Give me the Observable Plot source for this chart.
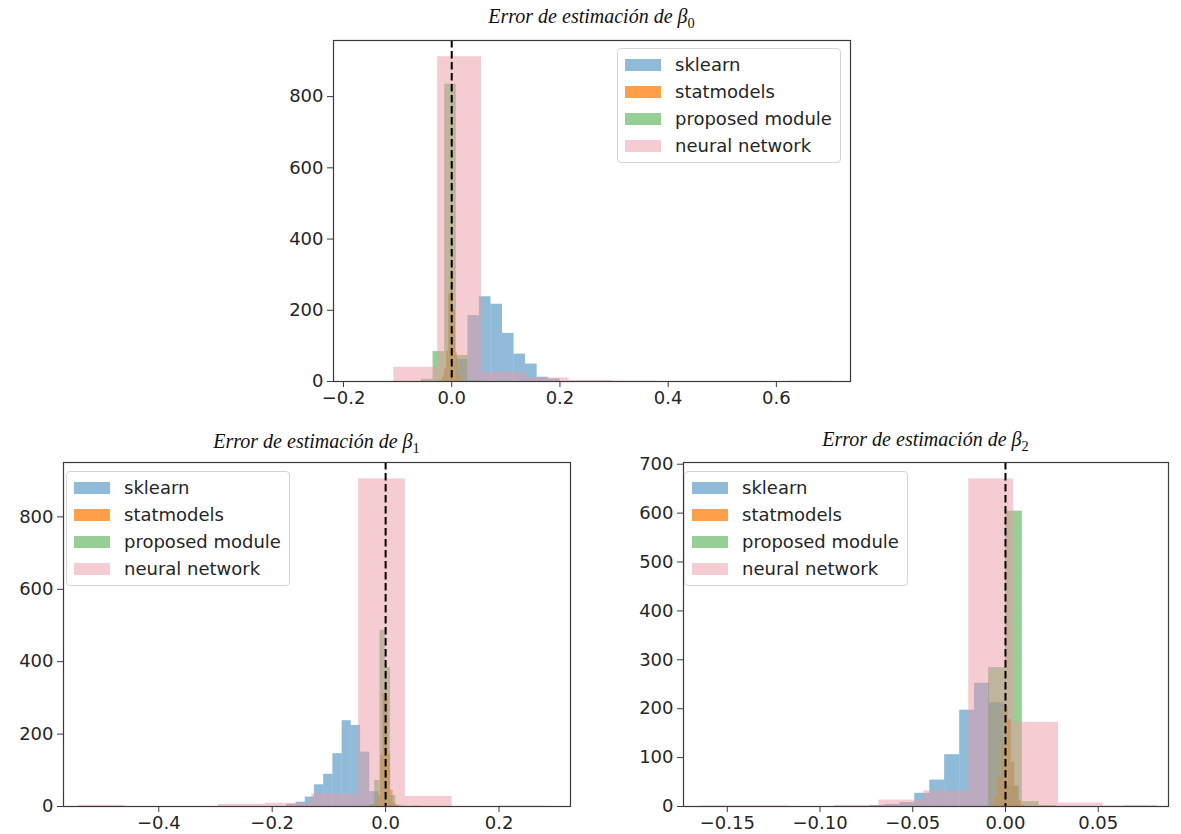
<!DOCTYPE html>
<html><head><meta charset="utf-8">
<script src="https://cdn.jsdelivr.net/npm/d3@7"></script>
<script src="https://cdn.jsdelivr.net/npm/@observablehq/plot@0.6"></script>
<style>
body{margin:0;background:#fff;}
#fig{position:relative;width:1181px;height:834px;overflow:hidden;font-family:"DejaVu Sans",sans-serif;}
.title{position:absolute;font-family:"Liberation Serif",serif;font-style:italic;font-size:20px;color:#111;white-space:nowrap;transform:translate(-50%,-50%);}
.title sub{font-size:72%;font-style:normal;}
.legend{position:absolute;background:rgba(255,255,255,0.8);border:1px solid #d4d4d4;border-radius:4px;box-sizing:border-box;}
.patch{position:absolute;width:36px;height:12px;}
.ltext{position:absolute;font-size:18px;color:#262626;white-space:nowrap;transform:translateY(-50%);line-height:1;}
svg{position:absolute;overflow:visible;}
</style></head><body><div id="fig"></div>
<script>
// ---- series ----
const seriesNames = ["sklearn", "statmodels", "proposed module", "neural network"];
const seriesColors = ["#1f77b4", "#ff7f0e", "#2ca02c", "#ea9aa4"];
const seriesOpacity = [0.5, 0.75, 0.5, 0.5];

// ---- beta0 ----
const b0_sklearn_edges = [-0.0126, 0.0087, 0.0300, 0.0513, 0.0726, 0.0939, 0.1152, 0.1365, 0.1578, 0.1791, 0.2004];
const b0_sklearn_counts = [4, 62, 185, 238, 217, 135, 77, 49, 12, 7];
const b0_statmodels_edges = [-0.0218, -0.0178, -0.0137, -0.0097, -0.0056, -0.0016, 0.0025, 0.0066, 0.0106, 0.0147, 0.0187];
const b0_statmodels_counts = [3, 12, 35, 85, 245, 310, 200, 80, 22, 8];
const b0_proposed_edges = [-0.0560, -0.0345, -0.0130, 0.0085, 0.0300, 0.0515, 0.0730, 0.0945, 0.1160, 0.1375, 0.1590];
const b0_proposed_counts = [6, 84, 835, 73, 2, 0, 0, 0, 0, 0];
const b0_neural_edges = [-0.107, -0.026, 0.055, 0.136, 0.217, 0.298, 0.379, 0.460, 0.541, 0.622, 0.703];
const b0_neural_counts = [40, 912, 26, 10, 3, 1, 0, 0, 0, 1];
const b0_xdomain = [-0.2185, 0.737];
const b0_xticks = [-0.2, 0.0, 0.2, 0.4, 0.6];
const b0_yticks = [0, 200, 400, 600, 800];

// ---- beta1 ----
const b1_sklearn_edges = [-0.1742, -0.1580, -0.1417, -0.1255, -0.1092, -0.0930, -0.0767, -0.0605, -0.0442, -0.0280, -0.0117];
const b1_sklearn_counts = [6, 12, 26, 60, 89, 146, 237, 224, 150, 41];
const b1_statmodels_edges = [-0.022, -0.0176, -0.0132, -0.0088, -0.0044, 0.0, 0.0044, 0.0088, 0.0132, 0.0176, 0.022];
const b1_statmodels_counts = [1, 8, 30, 141, 312, 305, 145, 45, 10, 3];
const b1_proposed_edges = [-0.0285, -0.0192, -0.0099, -0.0006, 0.0087, 0.0180, 0.0273, 0.0366, 0.0459, 0.0552, 0.0645];
const b1_proposed_counts = [5, 72, 487, 384, 30, 4, 1, 0, 1, 1];
const b1_neural_edges = [-0.5425, -0.4600, -0.3775, -0.2950, -0.2126, -0.1301, -0.0476, 0.0349, 0.1173, 0.1998, 0.2823];
const b1_neural_counts = [3, 0, 0, 6, 9, 35, 905, 28, 0, 1];
const b1_xdomain = [-0.568, 0.326];
const b1_xticks = [-0.4, -0.2, 0.0, 0.2];
const b1_yticks = [0, 200, 400, 600, 800];

// ---- beta2 ----
const b2_sklearn_edges = [-0.0730, -0.0650, -0.0569, -0.0489, -0.0408, -0.0328, -0.0247, -0.0167, -0.0086, -0.0006, 0.0075];
const b2_sklearn_counts = [2, 4, 8, 27, 54, 106, 197, 252, 212, 42];
const b2_statmodels_edges = [-0.0076, -0.0058, -0.0040, -0.0022, -0.0004, 0.0014, 0.0032, 0.0050, 0.0068, 0.0086, 0.0104];
const b2_statmodels_counts = [3, 19, 60, 129, 205, 177, 91, 41, 12, 2];
const b2_proposed_edges = [-0.0091, 0.0, 0.0091, 0.0182, 0.0273, 0.0364, 0.0455, 0.0546, 0.0637, 0.0728, 0.0819];
const b2_proposed_counts = [284, 604, 10, 2, 0, 0, 0, 0, 1, 1];
const b2_neural_edges = [-0.165, -0.1408, -0.1166, -0.0924, -0.0682, -0.044, -0.0198, 0.0044, 0.0286, 0.0528, 0.077];
const b2_neural_counts = [1, 1, 0, 2, 13, 32, 670, 172, 7, 1];
const b2_xdomain = [-0.1736, 0.0879];
const b2_xticks = [-0.15, -0.10, -0.05, 0.00, 0.05];
const b2_yticks = [0, 100, 200, 300, 400, 500, 600, 700];

function toBins(edges, counts) {
  return counts.map((c, i) => ({x1: edges[i], x2: edges[i + 1], y: c}));
}

const fig = document.getElementById("fig");

function makePanel(cfg) {
  const sets = [
    toBins(cfg.sk[0], cfg.sk[1]),
    toBins(cfg.st[0], cfg.st[1]),
    toBins(cfg.pm[0], cfg.pm[1]),
    toBins(cfg.nn[0], cfg.nn[1])
  ];
  const ymax = d3.max(sets.flat(), d => d.y) * 1.05;
  const marks = sets.map((data, i) => Plot.rect(data, {
    x1: "x1", x2: "x2", y1: () => 0, y2: "y",
    fill: seriesColors[i], fillOpacity: seriesOpacity[i]
  }));
  marks.push(Plot.ruleX([0], {stroke: "#000", strokeWidth: 2, strokeDasharray: "7.5,3.5"}));
  marks.push(Plot.frame({stroke: "#3a3a3a", strokeWidth: 1.2}));
  marks.push(Plot.axisX({ticks: cfg.xticks, tickFormat: d3.format(cfg.xfmt), tickSize: 6, tickPadding: 4, fontSize: 18, label: null, stroke: "#3a3a3a"}));
  marks.push(Plot.axisY({ticks: cfg.yticks, tickFormat: d3.format("d"), tickSize: 6, tickPadding: 4, fontSize: 18, label: null, stroke: "#3a3a3a"}));
  const svg = Plot.plot({
    width: cfg.ml + cfg.w + 10,
    height: 10 + cfg.h + cfg.mb,
    marginLeft: cfg.ml, marginRight: 10, marginTop: 10, marginBottom: cfg.mb,
    x: {domain: cfg.xdomain},
    y: {domain: [0, ymax]},
    style: {fontFamily: "DejaVu Sans, sans-serif", fontSize: "18px", color: "#262626", background: "transparent"},
    marks
  });
  svg.style.left = (cfg.left - cfg.ml) + "px";
  svg.style.top = (cfg.top - 10) + "px";
  fig.appendChild(svg);

  const t = document.createElement("div");
  t.className = "title";
  t.innerHTML = "Error de estimación de β<sub>" + cfg.sub + "</sub>";
  t.style.left = (cfg.left + cfg.w / 2) + "px";
  t.style.top = cfg.titleY + "px";
  fig.appendChild(t);

  const lg = document.createElement("div");
  lg.className = "legend";
  lg.style.left = cfg.lgX + "px";
  lg.style.top = cfg.lgY + "px";
  lg.style.width = "224px";
  lg.style.height = "115px";
  seriesNames.forEach((name, i) => {
    const cy = 15.5 + i * 27;
    const p = document.createElement("div");
    p.className = "patch";
    p.style.left = "7px";
    p.style.top = (cy - 6) + "px";
    p.style.background = seriesColors[i];
    p.style.opacity = seriesOpacity[i];
    lg.appendChild(p);
    const tx = document.createElement("div");
    tx.className = "ltext";
    tx.style.left = "57px";
    tx.style.top = cy + "px";
    tx.textContent = name;
    lg.appendChild(tx);
  });
  fig.appendChild(lg);
}

makePanel({
  sk: [b0_sklearn_edges, b0_sklearn_counts], st: [b0_statmodels_edges, b0_statmodels_counts],
  pm: [b0_proposed_edges, b0_proposed_counts], nn: [b0_neural_edges, b0_neural_counts],
  xdomain: b0_xdomain, xticks: b0_xticks, yticks: b0_yticks, xfmt: ".1f",
  left: 333, top: 40, w: 517, h: 341, ml: 70, mb: 40, sub: "0", titleY: 18, lgX: 617, lgY: 48
});
makePanel({
  sk: [b1_sklearn_edges, b1_sklearn_counts], st: [b1_statmodels_edges, b1_statmodels_counts],
  pm: [b1_proposed_edges, b1_proposed_counts], nn: [b1_neural_edges, b1_neural_counts],
  xdomain: b1_xdomain, xticks: b1_xticks, yticks: b1_yticks, xfmt: ".1f",
  left: 63, top: 462, w: 507, h: 344, ml: 62, mb: 28, sub: "1", titleY: 443, lgX: 66, lgY: 471
});
makePanel({
  sk: [b2_sklearn_edges, b2_sklearn_counts], st: [b2_statmodels_edges, b2_statmodels_counts],
  pm: [b2_proposed_edges, b2_proposed_counts], nn: [b2_neural_edges, b2_neural_counts],
  xdomain: b2_xdomain, xticks: b2_xticks, yticks: b2_yticks, xfmt: ".2f",
  left: 683, top: 462, w: 485, h: 344, ml: 62, mb: 28, sub: "2", titleY: 441, lgX: 684, lgY: 471
});
</script></body></html>
